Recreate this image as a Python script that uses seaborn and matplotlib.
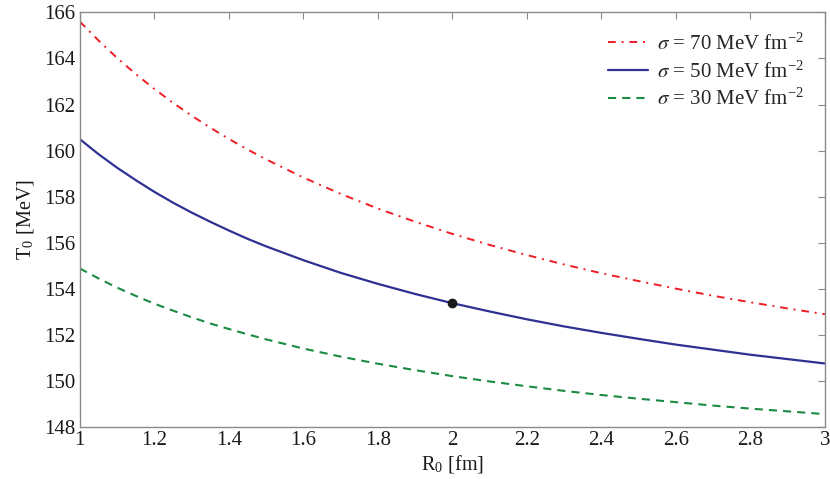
import numpy as np
import pandas as pd
import matplotlib
matplotlib.use('Agg')
import matplotlib.pyplot as plt
import seaborn as sns
from matplotlib.ticker import FormatStrFormatter

# Radio R0 [fm]
R0 = [1.0, 1.05, 1.1, 1.15, 1.2, 1.25, 1.3, 1.35, 1.4, 1.45, 1.5,
      1.6, 1.7, 1.8, 1.9, 2.0, 2.1, 2.2, 2.3, 2.4, 2.5, 2.6, 2.7, 2.8, 2.9, 3.0]

# T0 [MeV] para cada tension superficial
T_sigma70 = [165.61, 164.79, 164.03, 163.33, 162.68, 162.08, 161.52, 161.00, 160.51, 160.05, 159.62,
             158.83, 158.12, 157.48, 156.91, 156.38, 155.90, 155.46, 155.05, 154.67, 154.33,
             154.00, 153.69, 153.41, 153.14, 152.89]
T_sigma50 = [160.50, 159.85, 159.26, 158.72, 158.21, 157.74, 157.31, 156.91, 156.53, 156.17, 155.84,
             155.24, 154.69, 154.21, 153.77, 153.37, 153.01, 152.67, 152.36, 152.08, 151.82,
             151.57, 151.35, 151.13, 150.94, 150.75]
T_sigma30 = [154.88, 154.45, 154.05, 153.69, 153.35, 153.05, 152.76, 152.49, 152.25, 152.02, 151.80,
             151.40, 151.05, 150.74, 150.46, 150.20, 149.97, 149.76, 149.56, 149.38, 149.22,
             149.07, 148.92, 148.79, 148.67, 148.55]

# punto marcado
R_mark = [2.0]
T_mark = [153.37]

labels = [r'$\sigma$ = 70 MeV fm$^{\mathregular{-2}}$',
          r'$\sigma$ = 50 MeV fm$^{\mathregular{-2}}$',
          r'$\sigma$ = 30 MeV fm$^{\mathregular{-2}}$']

sns.set_style('white')
plt.rcParams['font.family'] = ['Liberation Serif', 'DejaVu Serif']
plt.rcParams['mathtext.fontset'] = 'stix'
plt.rcParams['axes.edgecolor'] = '#8a8a8a'
plt.rcParams['axes.linewidth'] = 1.0

fig = plt.figure(figsize=(8.3, 4.79), dpi=100)
ax = fig.add_axes([0.096, 0.109, 0.898, 0.865])

sns.lineplot(x=R0, y=T_sigma70, ax=ax, color='#ee1c25', lw=1.4,
             linestyle=(0, (4, 3, 1, 3)), label=labels[0])
sns.lineplot(x=R0, y=T_sigma50, ax=ax, color='#2e3192', lw=1.6,
             linestyle='-', label=labels[1])
sns.lineplot(x=R0, y=T_sigma30, ax=ax, color='#1b8a43', lw=1.5,
             linestyle=(0, (3.9, 2.9)), label=labels[2])
ax.plot(R_mark, T_mark, 'o', color='#1a1a1a', ms=6, zorder=5)

ax.set_xlim(1, 3)
ax.set_ylim(148, 166)
ax.set_xticks(np.arange(1, 3.01, 0.2))
ax.set_yticks(np.arange(148, 166.1, 2))
ax.xaxis.set_major_formatter(FormatStrFormatter('%g'))
ax.tick_params(direction='in', length=5, width=0.8, color='#8a8a8a',
               top=True, right=True, labelsize=15, labelcolor='#1a1a1a')
ax.tick_params(axis='x', pad=3)
ax.tick_params(axis='y', pad=3)

ax.set_xlabel(r'R$_\mathregular{0}$ [fm]', fontsize=14.5, color='#1a1a1a', labelpad=2)
ax.set_ylabel(r'T$_\mathregular{0}$ [MeV]', fontsize=14.5, color='#1a1a1a', labelpad=6)

leg = ax.legend(loc='upper right', frameon=False, fontsize=15,
                handlelength=1.9, handletextpad=0.45, labelspacing=0.3,
                borderaxespad=0.6)

plt.savefig('out.png', dpi=100)
